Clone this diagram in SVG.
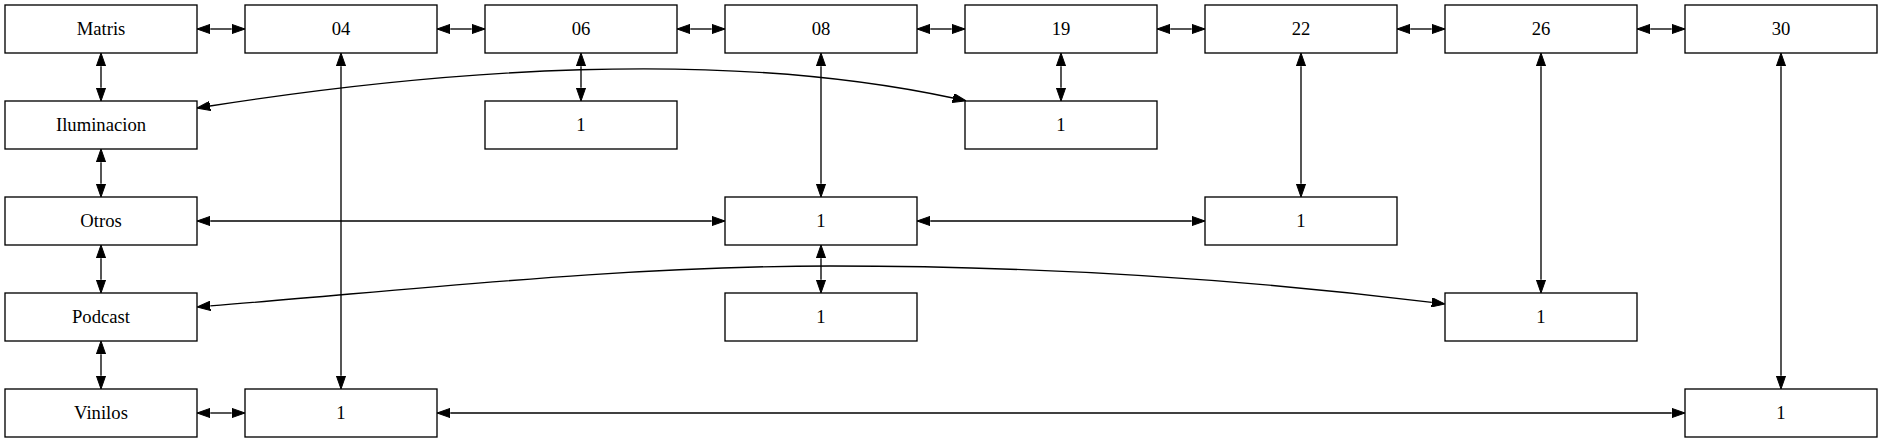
<svg xmlns="http://www.w3.org/2000/svg" width="1883" height="443" viewBox="0 0 1883 443">
<style>
.n rect{fill:#fff;stroke:#000;stroke-width:1.33}
.n text{font-family:'Liberation Serif','Times New Roman',Times,serif;font-size:18.67px;text-anchor:middle;fill:#000}
.e path{fill:none;stroke:#000;stroke-width:1.33;marker-start:url(#ah);marker-end:url(#ah)}
</style>
<defs>
<marker id="ah" markerUnits="userSpaceOnUse" viewBox="0 0 13.33 9.34" markerWidth="13.33" markerHeight="9.34" refX="0" refY="4.67" orient="auto-start-reverse">
<path d="M0,0 L13.33,4.67 L0,9.34 z" fill="#000" stroke="#000" stroke-width="1"/>
</marker>
</defs>
<rect width="1883" height="443" fill="#fff"/>
<g class="e" id="connectors">
<path d="M210.3,29 H231.7"/>
<path d="M450.3,29 H471.7"/>
<path d="M690.3,29 H711.7"/>
<path d="M930.3,29 H951.7"/>
<path d="M1170.3,29 H1191.7"/>
<path d="M1410.3,29 H1431.7"/>
<path d="M1650.3,29 H1671.7"/>
<path d="M101,66.3 V87.7"/>
<path d="M101,162.3 V183.7"/>
<path d="M101,258.3 V279.7"/>
<path d="M101,354.3 V375.7"/>
<path d="M341,66.3 V375.7"/>
<path d="M581,66.3 V87.7"/>
<path d="M821,66.3 V183.7"/>
<path d="M1061,66.3 V87.7"/>
<path d="M1301,66.3 V183.7"/>
<path d="M1541,66.3 V279.7"/>
<path d="M1781,66.3 V375.7"/>
<path d="M821,258.3 V279.7"/>
<path d="M210.3,221 H711.7"/>
<path d="M930.3,221 H1191.7"/>
<path d="M210.3,413 H231.7"/>
<path d="M450.3,413 H1671.7"/>
<path d="M210,106 C440,70 720,48 953,98"/>
<path d="M210.3,305.9 C410,290 620,266 830,266 C1040,266 1250,280 1431.8,302.4"/>
</g>
<g class="n" id="matris"><rect x="5" y="5" width="192" height="48"/><text x="101" y="34.5" font-family="Liberation Serif">Matris</text></g>
<g class="n" id="n04"><rect x="245" y="5" width="192" height="48"/><text x="341" y="34.5">04</text></g>
<g class="n" id="n06"><rect x="485" y="5" width="192" height="48"/><text x="581" y="34.5">06</text></g>
<g class="n" id="n08"><rect x="725" y="5" width="192" height="48"/><text x="821" y="34.5">08</text></g>
<g class="n" id="n19"><rect x="965" y="5" width="192" height="48"/><text x="1061" y="34.5">19</text></g>
<g class="n" id="n22"><rect x="1205" y="5" width="192" height="48"/><text x="1301" y="34.5">22</text></g>
<g class="n" id="n26"><rect x="1445" y="5" width="192" height="48"/><text x="1541" y="34.5">26</text></g>
<g class="n" id="n30"><rect x="1685" y="5" width="192" height="48"/><text x="1781" y="34.5">30</text></g>
<g class="n" id="iluminacion"><rect x="5" y="101" width="192" height="48"/><text x="101" y="130.5">Iluminacion</text></g>
<g class="n" id="otros"><rect x="5" y="197" width="192" height="48"/><text x="101" y="226.5">Otros</text></g>
<g class="n" id="podcast"><rect x="5" y="293" width="192" height="48"/><text x="101" y="322.5">Podcast</text></g>
<g class="n" id="vinilos"><rect x="5" y="389" width="192" height="48"/><text x="101" y="418.5">Vinilos</text></g>
<g class="n" id="c2r1"><rect x="485" y="101" width="192" height="48"/><text x="581" y="130.5">1</text></g>
<g class="n" id="c4r1"><rect x="965" y="101" width="192" height="48"/><text x="1061" y="130.5">1</text></g>
<g class="n" id="c3r2"><rect x="725" y="197" width="192" height="48"/><text x="821" y="226.5">1</text></g>
<g class="n" id="c5r2"><rect x="1205" y="197" width="192" height="48"/><text x="1301" y="226.5">1</text></g>
<g class="n" id="c3r3"><rect x="725" y="293" width="192" height="48"/><text x="821" y="322.5">1</text></g>
<g class="n" id="c6r3"><rect x="1445" y="293" width="192" height="48"/><text x="1541" y="322.5">1</text></g>
<g class="n" id="c1r4"><rect x="245" y="389" width="192" height="48"/><text x="341" y="418.5">1</text></g>
<g class="n" id="c7r4"><rect x="1685" y="389" width="192" height="48"/><text x="1781" y="418.5">1</text></g>
</svg>
